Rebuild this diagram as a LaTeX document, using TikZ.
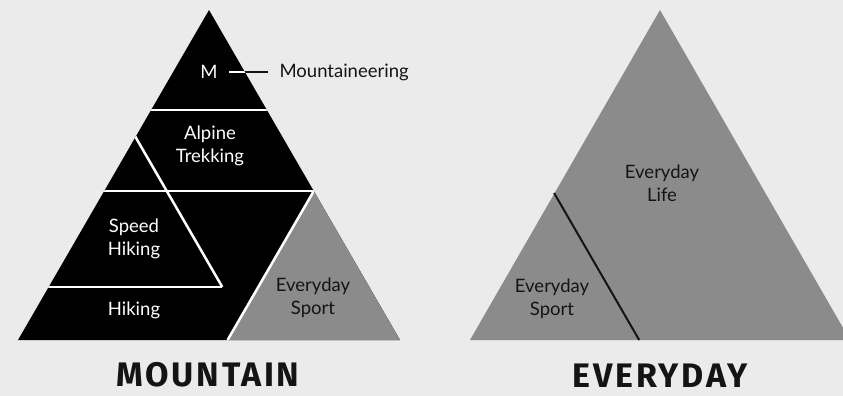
\documentclass[tikz,border=0pt]{standalone}
\usepackage{fontspec}
\setmainfont{Lato}
\newfontfamily\titlefont{Fira Sans}[LetterSpace=8]
\usepackage{xcolor}
\usetikzlibrary{backgrounds,calc}

\definecolor{bg_grey}{HTML}{EBEBEB}
\definecolor{mid_grey}{HTML}{8A8B8A}
\definecolor{ink}{HTML}{141414}

\begin{document}
\begin{tikzpicture}[x=1pt,y=-1pt]
		\tikzstyle{area_text}=[text=white, align=center, font=\fontsize{18.5}{22.5}\selectfont]
		\tikzstyle{area_text_dark}=[area_text, text=ink]
		\tikzstyle{divider}=[draw=white, line width=2.5pt]
		\tikzstyle{divider_dark}=[draw=ink, line width=2pt]
		\tikzstyle{title}=[text=ink, font=\titlefont\bfseries\fontsize{34}{34}\selectfont]

		\fill[bg_grey] (0,0) rectangle (843,396);
		\useasboundingbox (0,0) rectangle (843,396);

		% mountain pyramid
		\begin{scope}
			\coordinate (m_top) at (209,10);
			\coordinate (m_left) at (18,340);
			\coordinate (m_right) at (400,340);
			\coordinate (speed_top) at (135.5,137);
			\coordinate (speed_right) at (222.3,287);
			\coordinate (sport_top) at (313.8,191);
			\coordinate (sport_left) at (227.6,340);

			\fill[black] (m_top) -- (m_left) -- (m_right) -- cycle;
			\fill[mid_grey] (sport_top) -- (sport_left) -- (m_right) -- cycle;

			\node [area_text] (m) at (209,72) {M};
			\node [area_text_dark, anchor=west] (mountaineering) at (276,72) {Mountaineering};
			\node [area_text] (alpine) at (210,146) {Alpine\\Trekking};
			\node [area_text] (speed) at (134,239) {Speed\\Hiking};
			\node [area_text] (hiking) at (134,310) {Hiking};
			\node [area_text_dark] (sport) at (313,298) {Everyday\\Sport};

			\draw[divider_dark, shorten <=8pt, shorten >=8pt] (m) -- (mountaineering);

			\begin{scope}
				\clip (m_top) -- (m_left) -- (m_right) -- cycle;
				\draw[divider] (0,110) -- (420,110);
				\draw[divider] (0,191) -- (sport_top);
				\draw[divider] ($(speed_top)!-0.2!(speed_right)$) -- (speed_right);
				\draw[divider] (0,287) -- (speed_right);
				\draw[divider] (sport_top) -- (sport_left);
				\draw[divider, shorten <=8pt, shorten >=8pt] (m) -- (mountaineering);
			\end{scope}

			\node [title] (mountain) at (208,374.5) {MOUNTAIN};
		\end{scope}

		% everyday pyramid
		\begin{scope}
			\coordinate (e_top) at (660,10);
			\coordinate (e_left) at (470,340);
			\coordinate (e_right) at (850,340);
			\coordinate (life_top) at (554.1,193);
			\coordinate (life_left) at (639.2,340);

			\begin{scope}
				\clip (0,0) rectangle (843,396);
				\fill[mid_grey] (e_top) -- (e_left) -- (e_right) -- cycle;
			\end{scope}
			\draw[divider_dark] (life_top) -- (life_left);

			\node [area_text_dark] (life) at (662,183) {Everyday\\Life};
			\node [area_text_dark] (e_sport) at (552,299) {Everyday\\Sport};

			\node [title] (everyday) at (660,376) {EVERYDAY};
		\end{scope}

	\end{tikzpicture}
\end{document}
